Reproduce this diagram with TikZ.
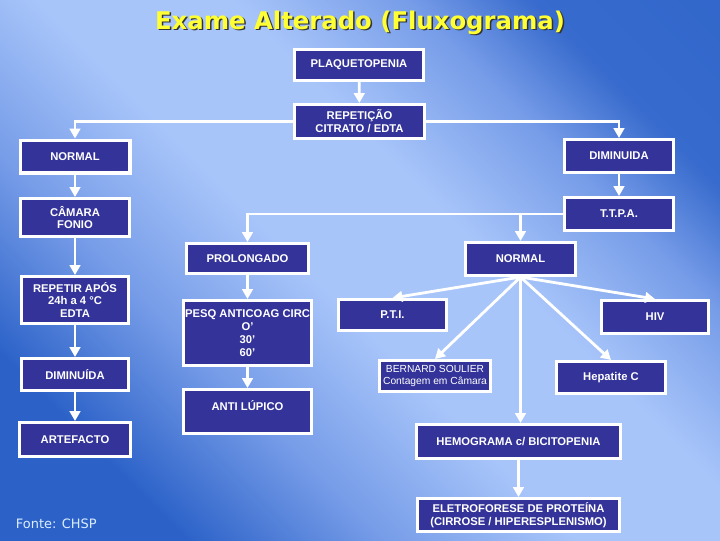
\documentclass[tikz,border=0pt]{standalone}
\usepackage{fontspec}
\usepackage{xcolor}
\usetikzlibrary{arrows.meta}
\newfontfamily\boxfont{Liberation Sans}
\newfontfamily\titlefont{DejaVu Sans}
\definecolor{bgdark}{RGB}{44,98,200}
\definecolor{bgmid}{RGB}{118,156,232}
\definecolor{bglight}{RGB}{168,197,250}
\definecolor{boxblue}{RGB}{51,51,153}
\definecolor{titleyel}{RGB}{255,255,51}
\definecolor{fonteblue}{RGB}{220,238,255}
\pgfdeclareverticalshading{bgshade}{100bp}{color(0bp)=(bgdark); color(25bp)=(bgdark);
  color(36bp)=(bgmid); color(47bp)=(bglight); color(58bp)=(bglight); color(68bp)=(bgmid); color(75bp)=(bgdark!85!bgmid); color(100bp)=(bgdark)}

\begin{document}
\begin{tikzpicture}[x=0.025cm,y=-0.025cm,
  box/.style={draw=white,line width=2.2pt,fill=boxblue,text=white,align=center,inner sep=0pt,
    font=\boxfont\bfseries\fontsize{8}{9.2}\selectfont},
  size/.style 2 args={minimum width=#1*0.025cm-2.2pt,minimum height=#2*0.025cm-2.2pt},
  link/.style={draw=white,line width=2pt,-{Triangle[length=7pt,width=7.5pt]}}]
\def\tfont{\titlefont\bfseries\fontsize{17.3}{19}\selectfont}

%Set up:
\shade[shading=bgshade,shading angle=-45] (0,0) rectangle (720,540);
\useasboundingbox (0,0) rectangle (720,540);

\node[font=\tfont,text=black!80] (tshadow) at (361.5,24) {Exame Alterado (Fluxograma)};
\node[font=\tfont,text=titleyel] (title) at (360,22.5) {Exame Alterado (Fluxograma)};

%Boxes:
\node[box,size={132}{34}] (plaq) at (359,65) {PLAQUETOPENIA};
\node[box,size={133}{37}] (rep) at (359.5,121.5) {REPETIÇÃO\\CITRATO / EDTA};

\node[box,size={113}{36}] (normA) at (75,156.5) {NORMAL};
\node[box,size={112}{41}] (camara) at (75,217.5) {CÂMARA\\FONIO};
\node[box,size={110}{50}] (repetir) at (75,300) {REPETIR APÓS\\24h a 4 °C\\EDTA};
\node[box,size={110}{35}] (dimB) at (75,374.5) {DIMINUÍDA};
\node[box,size={114}{37}] (artef) at (75,439.5) {ARTEFACTO};

\node[box,size={112}{36}] (dimA) at (619,156) {DIMINUIDA};
\node[box,size={112}{36}] (ttpa) at (619,214) {T.T.P.A.};

\node[box,size={125}{33}] (prolong) at (247.5,258.5) {PROLONGADO};
\node[box,size={131}{68}] (pesq) at (247.5,333) {PESQ ANTICOAG CIRC\\O’\\30’\\60’};
\node[box,size={131}{47}] (anti) at (247.5,411.5) {ANTI LÚPICO\\\mbox{}};

\node[box,size={113}{36}] (normB) at (520.5,259) {NORMAL};
\node[box,size={111}{34}] (pti) at (392.5,315) {P.T.I.};
\node[box,size={110}{36}] (hiv) at (655,317) {HIV};
\node[box,size={114}{34},font=\boxfont\fontsize{7.3}{9}\selectfont] (bern) at (435,376) {BERNARD SOULIER\\Contagem em Câmara};
\node[box,size={112}{35}] (hepc) at (611,377.5) {Hepatite C};
\node[box,size={207}{37}] (hemo) at (518.5,441.5) {HEMOGRAMA c/ BICITOPENIA};
\node[box,size={205}{36}] (eletro) at (518.5,515) {ELETROFORESE DE PROTEÍNA\\(CIRROSE / HIPERESPLENISMO)};

\node[anchor=base west,font=\titlefont\fontsize{9.2}{11}\selectfont,text=fonteblue] (fonte) at (11,528) {Fonte: CHSP};

%Arrows:
\draw[link] (plaq) -- (rep);
\draw[link] (rep.west) -| (normA);
\draw[link] (rep.east) -| (dimA);
\draw[link] (normA) -- (camara);
\draw[link] (camara) -- (repetir);
\draw[link] (repetir) -- (dimB);
\draw[link] (dimB) -- (artef);
\draw[link] (dimA) -- (ttpa);
\draw[link] (ttpa.west) -| (prolong);
\draw[link] (ttpa.west -| normB) -- (normB);
\draw[link] (prolong) -- (pesq);
\draw[link] (pesq) -- (anti);
\draw[link] (normB.south) -- (pti.north);
\draw[link] (normB.south) -- (hiv.north);
\draw[link] (normB.south) -- (bern.north);
\draw[link] (normB.south) -- (hepc.north);
\draw[link] (normB.south) -- (normB.south |- hemo.north);
\draw[link] (hemo) -- (eletro);

\end{tikzpicture}
\end{document}
